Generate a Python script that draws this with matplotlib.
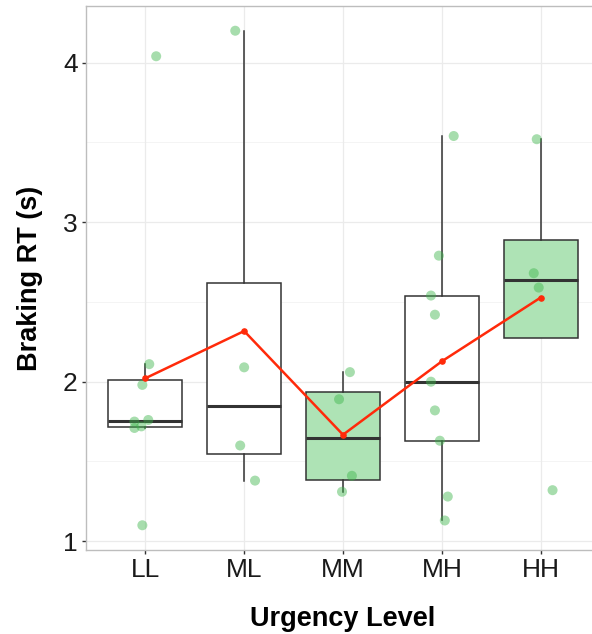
import matplotlib.pyplot as plt
import numpy as np

plt.rcParams['font.family'] = ['Liberation Sans', 'DejaVu Sans']

# data
levels = ['LL', 'ML', 'MM', 'MH', 'HH']
rt_LL = [4.04, 2.11, 1.98, 1.76, 1.75, 1.72, 1.71, 1.10]
rt_ML = [4.20, 2.09, 1.60, 1.38]
rt_MM = [2.06, 1.89, 1.41, 1.31]
rt_MH = [3.54, 2.79, 2.54, 2.42, 2.00, 1.82, 1.63, 1.28, 1.13]
rt_HH = [3.52, 2.68, 2.59, 1.32]

# horizontal jitter of the points
jit_LL = [0.11, 0.04, -0.03, 0.03, -0.11, -0.04, -0.11, -0.03]
jit_ML = [-0.09, 0.0, -0.04, 0.11]
jit_MM = [0.07, -0.04, 0.09, -0.01]
jit_MH = [0.12, -0.03, -0.11, -0.07, -0.11, -0.07, -0.02, 0.06, 0.03]
jit_HH = [-0.04, -0.07, -0.02, 0.12]

filled = [False, False, True, False, True]

data = [rt_LL, rt_ML, rt_MM, rt_MH, rt_HH]
jits = [jit_LL, jit_ML, jit_MM, jit_MH, jit_HH]
pos = np.arange(1, 6)

fig = plt.figure(figsize=(5.92, 6.34), dpi=100)
ax = fig.add_axes([86 / 592, 84 / 634, 514 / 592, 544 / 634])

# grid (major + minor)
for yv in [1, 2, 3, 4]:
    ax.axhline(yv, color='#ebebeb', lw=0.9, zorder=0)
for yv in [1.5, 2.5, 3.5]:
    ax.axhline(yv, color='#f3f3f3', lw=0.6, zorder=0)
for xv in pos:
    ax.axvline(xv, color='#ebebeb', lw=0.9, zorder=0)

bp = ax.boxplot(data, positions=pos, widths=0.75, whis=1.5, showfliers=False,
                patch_artist=True, showcaps=False,
                medianprops=dict(color='#333333', lw=2.2),
                whiskerprops=dict(color='#333333', lw=1.1),
                boxprops=dict(edgecolor='#333333', lw=1.1))
for box, f in zip(bp['boxes'], filled):
    box.set_facecolor('#aee3b5' if f else 'white')
    box.set_zorder(2)

for p, vals, jt in zip(pos, data, jits):
    ax.scatter(p + np.array(jt), vals, s=52, color='#3cb54a', alpha=0.45,
               edgecolors='none', zorder=3)

means = [np.mean(v) for v in data]
ax.plot(pos, means, color='#ff2a0a', lw=1.8, zorder=4)
ax.scatter(pos, means, s=14, color='#ff2a0a', zorder=4)

ax.set_xlim(0.4, 5.6)
ax.set_ylim(0.945, 4.355)
ax.set_xticks(pos)
ax.set_xticklabels(levels)
ax.set_yticks([1, 2, 3, 4])
ax.tick_params(labelsize=19, length=3, width=1, color='#333333', labelcolor='#1a1a1a', pad=3)
for s in ax.spines.values():
    s.set_color('#bdbdbd')
    s.set_linewidth(1.0)

ax.set_xlabel('Urgency Level', fontsize=19.5, fontweight='bold', labelpad=17)
ax.set_ylabel('Braking RT (s)', fontsize=19.5, fontweight='bold', labelpad=14)

fig.savefig('out.png', dpi=100)
